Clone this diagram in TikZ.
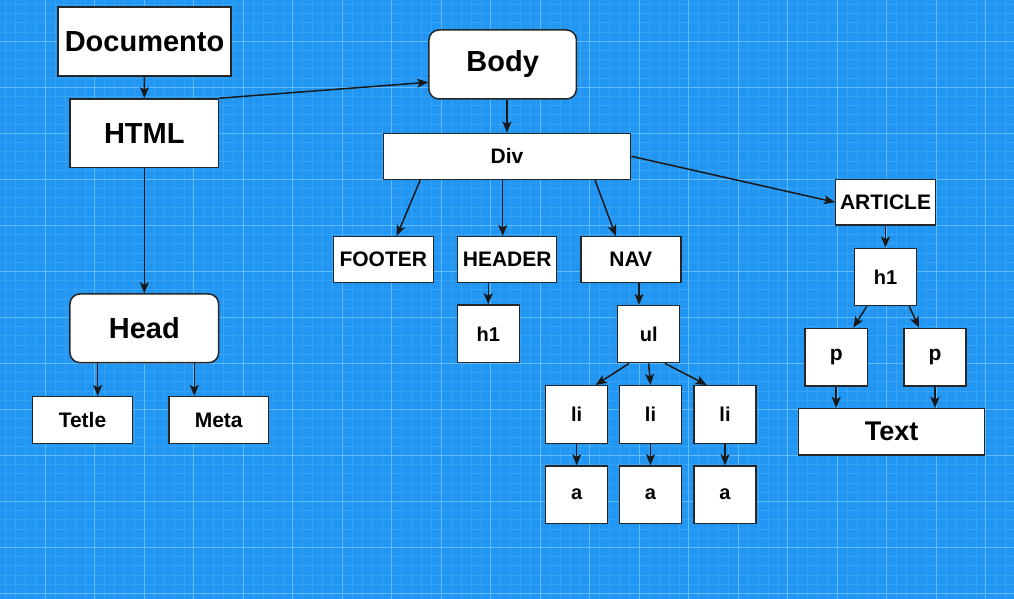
\documentclass[tikz,border=0pt]{standalone}
\usepackage{fontspec}
\setmainfont{Liberation Sans}
\usetikzlibrary{arrows.meta}
\definecolor{bgblue}{RGB}{33,150,243}
\definecolor{gridmaj}{RGB}{98,187,250}
\definecolor{gridmin}{RGB}{56,163,246}
\tikzset{
  box/.style={draw=black!85, line width=1.5pt, fill=white, inner sep=0pt},
  roundbox/.style={box, rounded corners=10pt},
  bigtxt/.style={font=\fontsize{29}{32}\selectfont\bfseries},
  midtxt/.style={font=\fontsize{21}{24}\selectfont\bfseries},
  smalltxt/.style={font=\fontsize{20}{23}\selectfont\bfseries},
  arr/.style={-{Stealth[length=11pt,width=9pt,inset=2.5pt]}, line width=1.5pt, draw=black!90}
}

\begin{document}
\begin{tikzpicture}[x=1pt,y=-1pt]
\useasboundingbox (0,0) rectangle (1014,599);
\fill[bgblue] (0,0) rectangle (1014,599);
\foreach \i in {0,...,102} \draw[gridmin, line width=0.8pt] ({-4.2+9.9*\i},0) -- ++(0,599);
\foreach \i in {0,...,65} \draw[gridmin, line width=0.8pt] (0,{-4.7+9.2*\i}) -- ++(1014,0);
\foreach \j in {0,...,20} \draw[gridmaj, line width=1.3pt] ({-4.2+49.5*\j},0) -- ++(0,599);
\foreach \j in {0,...,13} \draw[gridmaj, line width=1.3pt] (0,{-4.7+46*\j}) -- ++(1014,0);

\node[box,bigtxt,minimum width=173,minimum height=69] (doc) at (144.5,41.5) {Documento};
\node[box,bigtxt,minimum width=148.7,minimum height=68.7] (html) at (144.3,133.3) {HTML};
\node[roundbox,bigtxt,minimum width=147.5,minimum height=69] (body) at (502.7,64.5) {Body};
\node[roundbox,bigtxt,minimum width=148.7,minimum height=68.7] (head) at (144.3,328.3) {Head};
\node[box,midtxt,minimum width=99.6,minimum height=46.6] (tetle) at (82.5,420) {Tetle};
\node[box,midtxt,minimum width=99.3,minimum height=46.6] (meta) at (218.7,420) {Meta};

\node[box,midtxt,minimum width=247.4,minimum height=46] (div) at (507,156.3) {Div};
\node[box,midtxt,minimum width=100,minimum height=46] (footer) at (383.3,259.7) {FOOTER};
\node[box,midtxt,minimum width=99,minimum height=46] (header) at (507.2,259.7) {HEADER};
\node[box,midtxt,minimum width=100,minimum height=46] (nav) at (630.8,259.7) {NAV};
\node[box,smalltxt,minimum width=62,minimum height=57.7] (hone) at (488.3,333.8) {h1};
\node[box,smalltxt,minimum width=62,minimum height=57] (ul) at (648.7,334.2) {ul};
\node[box,smalltxt,minimum width=62,minimum height=57.6] (li1) at (576.7,414.5) {li};
\node[box,smalltxt,minimum width=62,minimum height=57.6] (li2) at (650.5,414.5) {li};
\node[box,smalltxt,minimum width=62,minimum height=57.6] (li3) at (725,414.5) {li};
\node[box,smalltxt,minimum width=62,minimum height=57.3] (a1) at (576.7,494.7) {a};
\node[box,smalltxt,minimum width=62,minimum height=57.3] (a2) at (650.5,494.7) {a};
\node[box,smalltxt,minimum width=62,minimum height=57.3] (a3) at (725,494.7) {a};

\node[box,midtxt,minimum width=99.6,minimum height=45.7] (article) at (885.5,202.2) {ARTICLE};
\node[box,smalltxt,minimum width=62.4,minimum height=57.4] (htwo) at (885.5,277) {h1};
\node[box,midtxt,minimum width=62.3,minimum height=57.7] (pone) at (836.2,357.2) {p};
\node[box,midtxt,minimum width=62.3,minimum height=57.7] (ptwo) at (935,357.2) {p};
\node[box,font=\fontsize{27}{30}\selectfont\bfseries,minimum width=185.6,minimum height=46.3] (text) at (891.5,431.8) {Text};

\draw[arr] (doc.south) -- (html.north);
\draw[arr] (html.north east) -- ([yshift=-17.8pt]body.west);
\draw[arr] (html.south) -- (head.north);
\draw[arr] ([xshift=-46.6pt]head.south) -- ([xshift=15.2pt]tetle.north);
\draw[arr] ([xshift=50pt]head.south) -- ([xshift=-24.4pt]meta.north);

\draw[arr] (body.south -| div.north) -- (div.north);
\draw[arr] ([xshift=37.7pt]div.south west) -- ([xshift=13.4pt]footer.north);
\draw[arr] ([xshift=-4.3pt]div.south) -- ([xshift=-4.5pt]header.north);
\draw[arr] ([xshift=88pt]div.south) -- ([xshift=-15pt]nav.north);
\draw[arr] (div.east) -- (article.west);
\draw[arr] (header.south -| hone.north) -- (hone.north);
\draw[arr] ([xshift=8.2pt]nav.south) -- ([xshift=-9.7pt]ul.north);
\draw[arr] ([xshift=-19.7pt]ul.south) -- ([xshift=19pt]li1.north);
\draw[arr] (ul.south) -- (li2.north);
\draw[arr] ([xshift=16.3pt]ul.south) -- ([xshift=-18.3pt]li3.north);
\foreach \k in {1,2,3} \draw[arr] (li\k.south) -- (a\k.north);

\draw[arr] (article.south) -- (htwo.north);
\draw[arr] ([xshift=-18.8pt]htwo.south) -- ([xshift=17.1pt]pone.north);
\draw[arr] ([xshift=23.8pt]htwo.south) -- ([xshift=-16pt]ptwo.north);
\draw[arr] (pone.south) -- (pone.south |- text.north);
\draw[arr] (ptwo.south) -- (ptwo.south |- text.north);
\end{tikzpicture}
\end{document}
